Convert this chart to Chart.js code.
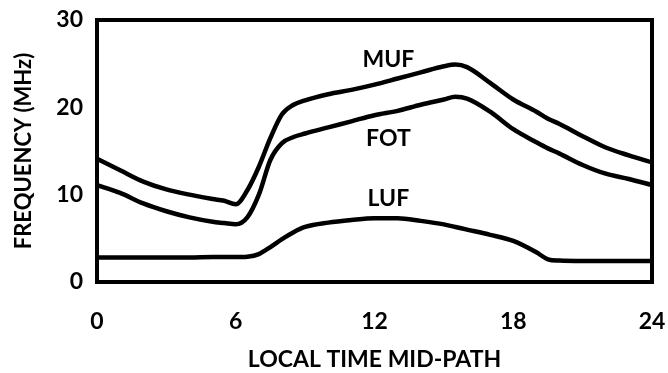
<!DOCTYPE html>
<html>
<head>
<meta charset="utf-8">
<script src="https://cdn.jsdelivr.net/npm/chart.js@4.4.1/dist/chart.umd.min.js"></script>
<style>
  html, body { margin: 0; padding: 0; background: #fff; }
  #wrap { width: 668px; height: 373px; }
</style>
</head>
<body>
<div id="wrap"><canvas id="myChartLine"></canvas></div>
<script>
// local time (hours) at which each curve was read
var hours = [0, 1, 2, 3, 4, 5, 5.5, 6, 6.5, 7, 7.5, 8, 8.5, 9, 10, 11, 12, 13, 14, 15, 15.5, 16, 17, 18, 19, 19.5, 20, 21, 22, 23, 24];

var muf = [14.1, 12.8, 11.5, 10.6, 10.0, 9.5, 9.3, 8.9, 10.5, 13.2, 16.5, 19.2, 20.3, 20.8, 21.5, 22.0, 22.6, 23.3, 24.0, 24.7, 24.9, 24.6, 22.8, 20.9, 19.5, 18.7, 18.1, 16.7, 15.4, 14.5, 13.7];
var fot = [11.1, 10.2, 9.0, 8.1, 7.4, 6.9, 6.75, 6.6, 7.4, 10.0, 14.0, 15.9, 16.6, 17.0, 17.7, 18.4, 19.1, 19.6, 20.3, 20.9, 21.2, 21.0, 19.5, 17.5, 16.0, 15.3, 14.7, 13.4, 12.4, 11.8, 11.1];
var luf = [2.8, 2.8, 2.8, 2.8, 2.8, 2.85, 2.85, 2.85, 2.9, 3.2, 4.0, 4.9, 5.7, 6.3, 6.8, 7.1, 7.3, 7.3, 7.0, 6.6, 6.3, 6.0, 5.4, 4.7, 3.4, 2.6, 2.45, 2.4, 2.4, 2.4, 2.4];

var xTicks = [0, 6, 12, 18, 24];
var yTicks = [0, 10, 20, 30];

var curveNames = ['MUF', 'FOT', 'LUF'];
var labelX = [12.6, 12.6, 12.6];
var labelY = [25.5, 16.4, 9.6];

var fontFamily = "Lato, 'Open Sans', sans-serif";

function toPoints(ys) {
  return hours.map(function (h, i) { return { x: h, y: ys[i] }; });
}

function makeSet(name, ys) {
  return {
    label: name,
    data: toPoints(ys),
    borderColor: '#000',
    borderWidth: 4.5,
    pointRadius: 0,
    fill: false,
    cubicInterpolationMode: 'monotone'
  };
}

var boxAndLabels = {
  id: 'boxAndLabels',
  afterDatasetsDraw: function (chart) {
    var ctx = chart.ctx;
    var a = chart.chartArea;
    var xs = chart.scales.x, ys = chart.scales.y;
    ctx.save();
    ctx.fillStyle = '#000';
    ctx.font = 'bold 23px ' + fontFamily;
    ctx.textAlign = 'center';
    ctx.textBaseline = 'middle';
    curveNames.forEach(function (n, i) {
      ctx.fillText(n, xs.getPixelForValue(labelX[i]), ys.getPixelForValue(labelY[i]));
    });
    ctx.lineWidth = 4;
    ctx.strokeStyle = '#000';
    ctx.strokeRect(a.left, a.top, a.right - a.left, a.bottom - a.top);
    ctx.restore();
  }
};

new Chart(document.getElementById('myChartLine'), {
  type: 'line',
  data: {
    datasets: [makeSet('MUF', muf), makeSet('FOT', fot), makeSet('LUF', luf)]
  },
  options: {
    responsive: true,
    maintainAspectRatio: false,
    animation: false,
    layout: { padding: { top: 20, right: 16, left: 0, bottom: 0 } },
    plugins: { legend: { display: false }, tooltip: { enabled: false } },
    scales: {
      x: {
        type: 'linear',
        min: 0,
        max: 24,
        afterBuildTicks: function (s) { s.ticks = xTicks.map(function (v) { return { value: v }; }); },
        afterFit: function (s) { s.height = 91; s.paddingLeft = 0; s.paddingRight = 0; },
        grid: { display: false, drawTicks: false },
        border: { display: false },
        ticks: { color: '#000', padding: 26, font: { family: fontFamily, size: 23, weight: 'bold' } },
        title: {
          display: true,
          text: 'LOCAL TIME MID-PATH',
          color: '#000',
          padding: { top: 0, bottom: 0 },
          font: { family: fontFamily, size: 23, weight: 'bold' }
        }
      },
      y: {
        min: 0,
        max: 30,
        afterBuildTicks: function (s) { s.ticks = yTicks.map(function (v) { return { value: v }; }); },
        afterFit: function (s) { s.width = 97; s.paddingTop = 0; s.paddingBottom = 0; },
        grid: { display: false, drawTicks: false },
        border: { display: false },
        ticks: { color: '#000', padding: 14, font: { family: fontFamily, size: 23, weight: 'bold' } },
        title: {
          display: true,
          text: 'FREQUENCY (MHz)',
          color: '#000',
          padding: { top: 11, bottom: 0 },
          font: { family: fontFamily, size: 22, weight: 'bold' }
        }
      }
    }
  },
  plugins: [boxAndLabels]
});
</script>
</body>
</html>
